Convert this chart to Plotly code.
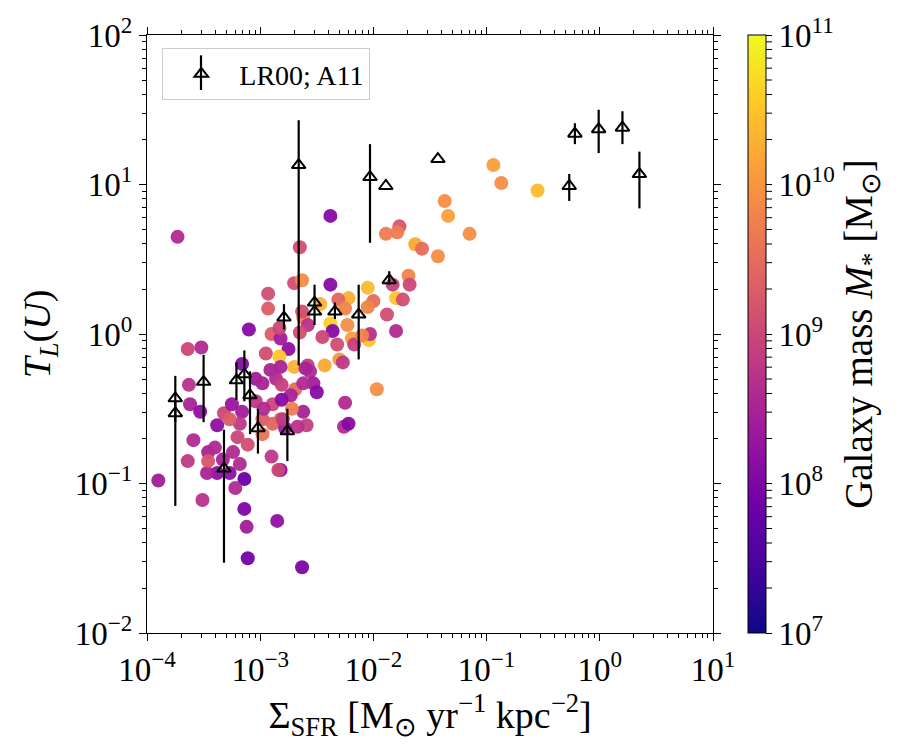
import plotly.graph_objects as go
import numpy as np

# ---- scatter sample: log10(Sigma_SFR), log10(T_L), log10(M*) ----
log_sfr = [-0.94, -0.87, -0.55, -1.37, -1.34, -1.15, -1.77, -1.79, -1.89, -1.63, -1.57, -1.43,
           -2.38, -2.65, -3.73, -2.70, -2.63, -2.38, -1.69, -1.68, -1.83, -1.80, -1.74, -1.88,
           -1.80, -2.05, -2.00, -2.05, -2.22, -2.31, -2.25, -2.47, -2.62, -2.38, -2.36, -2.23,
           -2.58, -2.63, -2.65, -2.45, -2.32, -2.19, -2.17, -2.04, -2.03, -2.10, -2.30, -2.27,
           -2.43, -2.58, -2.56, -2.53, -2.50, -1.97, -2.25, -2.26, -2.22, -2.62, -2.59,
           -2.93, -2.93, -3.10, -2.90, -2.82, -2.83, -2.75, -2.95, -2.83, -2.70, -2.60, -2.82,
           -2.91, -3.04, -2.98, -2.86, -2.81, -2.69, -2.62, -2.73, -3.64, -3.52, -3.63, -3.62,
           -3.53, -3.38, -3.32, -3.25, -3.16, -3.04, -2.98, -2.89, -2.81, -2.72, -2.67, -2.97,
           -3.16, -3.18, -3.27, -3.20, -3.11, -3.46, -3.40, -3.33, -3.38, -3.47, -3.27, -3.24,
           -3.18, -3.14, -3.22, -2.89, -2.82, -2.78, -2.90, -2.82, -3.59, -3.64, -3.90, -3.51,
           -3.14, -3.12, -2.85, -3.11, -2.63, -2.98, -2.80, -2.84, -3.46]
log_tl = [1.13, 1.01, 0.96, 0.89, 0.79, 0.67, 0.72, 0.68, 0.67, 0.60, 0.57, 0.52,
          0.79, 0.58, 0.65, 0.34, 0.36, 0.33, 0.39, 0.33, 0.33, 0.24, 0.23, 0.13,
          0.02, 0.31, 0.22, 0.18, 0.24, 0.23, 0.17, 0.20, 0.11, 0.07, 0.02, 0.06,
          0.06, 0.15, 0.01, -0.02, -0.07, -0.03, -0.07, -0.04, 0.00, -0.01, -0.17, -0.19,
          -0.21, -0.21, -0.25, -0.33, -0.39, -0.37, -0.46, -0.62, -0.60, -0.52, -0.61,
          0.27, 0.17, 0.03, 0.00, -0.03, 0.04, -0.10, -0.13, -0.15, -0.22, -0.23, -0.22,
          -0.24, -0.30, -0.33, -0.30, -0.34, -0.37, -0.33, -0.41, -0.10, -0.09, -0.34, -0.47,
          -0.52, -0.61, -0.53, -0.47, -0.20, -0.45, -0.57, -0.47, -0.44, -0.50, -0.62, -0.50,
          -0.52, -0.60, -0.57, -0.69, -0.74, -0.79, -0.76, -0.84, -0.93, -0.93, -0.93, -0.79,
          -0.87, -0.97, -1.03, -0.60, -0.57, -0.63, -0.82, -0.91, -0.71, -0.85, -0.98, -1.11,
          -1.17, -1.29, -1.25, -1.50, -1.56, -0.67, -0.57, -0.91, -0.85]
log_mass = [10.1, 9.9, 10.4, 9.9, 10.1, 9.9, 9.2, 9.7, 9.7, 10.2, 9.5, 9.9,
            8.1, 9.1, 8.6, 9.1, 9.9, 8.1, 9.8, 9.0, 8.9, 10.5, 9.1, 9.1,
            8.6, 10.4, 9.5, 9.8, 10.3, 9.4, 9.8, 10.3, 9.8, 10.6, 8.1, 9.9,
            8.7, 9.1, 9.1, 9.0, 9.1, 10.1, 8.9, 10.5, 8.7, 9.8, 10.0, 8.8,
            10.2, 8.9, 8.6, 8.4, 8.1, 9.9, 8.6, 8.6, 8.1, 8.5, 8.9,
            9.1, 9.3, 8.1, 9.3, 8.4, 9.0, 8.2, 9.1, 10.5, 10.3, 8.5, 8.5,
            8.5, 8.4, 8.5, 8.6, 8.9, 9.5, 8.6, 8.5, 9.0, 8.6, 8.7, 8.5,
            8.2, 8.2, 9.0, 8.3, 8.1, 8.8, 9.3, 9.0, 8.1, 9.7, 8.7, 8.6,
            8.4, 8.8, 9.3, 9.0, 9.1, 8.5, 8.6, 8.5, 8.2, 8.5, 8.2, 8.6,
            8.6, 7.8, 8.6, 9.4, 9.5, 8.4, 8.8, 8.1, 8.6, 8.8, 8.4, 8.7,
            8.0, 8.4, 8.2, 7.9, 8.0, 9.6, 8.8, 9.0, 9.2]

# ---- LR00; A11 comparison sample (log10 values) ----
lr_sfr = [-3.75, -3.75, -3.50, -3.21, -3.14, -3.09, -3.02, -2.76, -3.32, -2.79, -2.52, -2.52,
          -2.34, -2.13, -1.86, -2.66, -2.03, -1.89, -1.43, -0.27, -0.22, -0.01, 0.20, 0.35]
lr_tl = [-0.43, -0.53, -0.32, -0.31, -0.27, -0.41, -0.63, -0.65, -0.90, 0.11, 0.21, 0.15,
         0.15, 0.13, 0.36, 1.13, 1.05, 0.99, 1.17, 0.99, 1.34, 1.37, 1.38, 1.07]
lr_tl_hi = [-0.28, -0.45, -0.14, -0.19, -0.11, -0.25, -0.50, -0.50, -0.64, 0.20, 0.33, 0.15,
            0.21, 0.33, 0.42, 1.43, 1.27, 0.99, 1.17, 1.07, 1.41, 1.50, 1.49, 1.22]
lr_tl_lo = [-0.59, -1.15, -0.59, -0.44, -0.45, -0.67, -0.80, -0.85, -1.53, 0.03, 0.06, 0.15,
            0.10, -0.17, 0.33, -0.21, 0.61, 0.99, 1.17, 0.89, 1.27, 1.21, 1.27, 0.84]

x_ticks = [-4, -3, -2, -1, 0, 1]
y_ticks = [-2, -1, 0, 1, 2]
cb_ticks = [7, 8, 9, 10, 11]

def pw(e):
    s = str(e).replace("-", "\u2212")
    return f"10<sup>{s}</sup>"

FONT = "Liberation Serif"
CB_MIN, CB_MAX = 7, 11
CB_X = 1.062          # colorbar left edge (paper units)
CB_THICK = 18         # px
PLOT_W = 900 - 147 - 187

x = 10 ** np.array(log_sfr)
y = 10 ** np.array(log_tl)
lx = 10 ** np.array(lr_sfr)
ly = 10 ** np.array(lr_tl)
ehi = 10 ** np.array(lr_tl_hi) - ly
elo = ly - 10 ** np.array(lr_tl_lo)

fig = go.Figure()
fig.add_trace(go.Scatter(
    x=x, y=y, mode="markers", showlegend=False,
    marker=dict(size=14, color=log_mass, colorscale="Plasma", cmin=CB_MIN, cmax=CB_MAX,
                opacity=0.95, line=dict(width=0),
                colorbar=dict(
                    x=CB_X, xanchor="left", xref="paper", xpad=0, ypad=0,
                    y=0.5, yanchor="middle",
                    len=1.0, lenmode="fraction", thickness=CB_THICK,
                    outlinecolor="black", outlinewidth=1,
                    tickvals=cb_ticks, ticktext=[pw(t) for t in cb_ticks],
                    ticks="outside", ticklen=6, tickwidth=1, tickcolor="black",
                    tickfont=dict(family=FONT, size=33, color="black"),
                    title=dict(text="Galaxy mass <i>M</i><sub>*</sub> [M<sub>\u2299</sub>]",
                               side="right", font=dict(family=FONT, size=39, color="black")),
                )),
))
fig.add_trace(go.Scatter(
    x=lx, y=ly, mode="markers", name="LR00; A11",
    marker=dict(symbol="triangle-up-open", size=12, color="black", line=dict(width=2, color="black")),
    error_y=dict(type="data", symmetric=False, array=ehi, arrayminus=elo,
                 color="black", thickness=2.2, width=0),
))

# colorbar minor ticks (log spacing) drawn as short strokes on the colorbar's right edge
cb_edge = CB_X + CB_THICK / PLOT_W
for e in range(CB_MIN, CB_MAX):
    for k in range(2, 10):
        v = (np.log10(k) + e - CB_MIN) / (CB_MAX - CB_MIN)
        fig.add_shape(type="line", xref="paper", yref="paper", layer="above",
                      x0=cb_edge, x1=cb_edge + 6 / PLOT_W, y0=v, y1=v,
                      line=dict(color="black", width=1))

axis_common = dict(
    type="log", showgrid=False, zeroline=False, showline=True, linecolor="black", linewidth=1.3,
    mirror="ticks", ticks="outside", ticklen=7, tickwidth=1.3, tickcolor="black",
    tickfont=dict(family=FONT, size=33, color="black"),
    minor=dict(ticks="outside", ticklen=4, tickwidth=1, tickcolor="black", dtick="D1", showgrid=False),
)

fig.update_xaxes(axis_common, range=[-4, 1], tickvals=[10.0 ** t for t in x_ticks],
                 ticktext=[pw(t) for t in x_ticks],
                 title=dict(text="\u03a3<sub>SFR</sub> [M<sub>\u2299</sub> yr<sup>\u22121</sup> kpc<sup>\u22122</sup>]",
                            font=dict(family=FONT, size=38, color="black"), standoff=2))
fig.update_yaxes(axis_common, range=[-2, 2], tickvals=[10.0 ** t for t in y_ticks],
                 ticktext=[pw(t) for t in y_ticks],
                 title=dict(text="<i>T</i><sub><i>L</i></sub>(<i>U</i>)",
                            font=dict(family=FONT, size=38, color="black"), standoff=12))

# error-bar stroke for the legend symbol (legend draws only the marker)
fig.add_shape(type="line", xref="paper", yref="paper", layer="above",
              x0=0.0954, x1=0.0954, y0=0.908, y1=0.966,
              line=dict(color="black", width=2.2))

fig.update_layout(
    width=900, height=750,
    margin=dict(l=147, r=187, t=32, b=117, pad=0),
    plot_bgcolor="white", paper_bgcolor="white",
    font=dict(family=FONT, color="black"),
    legend=dict(x=0.027, y=0.978, xanchor="left", yanchor="top", bgcolor="rgba(255,255,255,0)",
                bordercolor="#cccccc", borderwidth=1, itemwidth=66,
                font=dict(family=FONT, size=28, color="black")),
)

fig.write_html("out.html")
